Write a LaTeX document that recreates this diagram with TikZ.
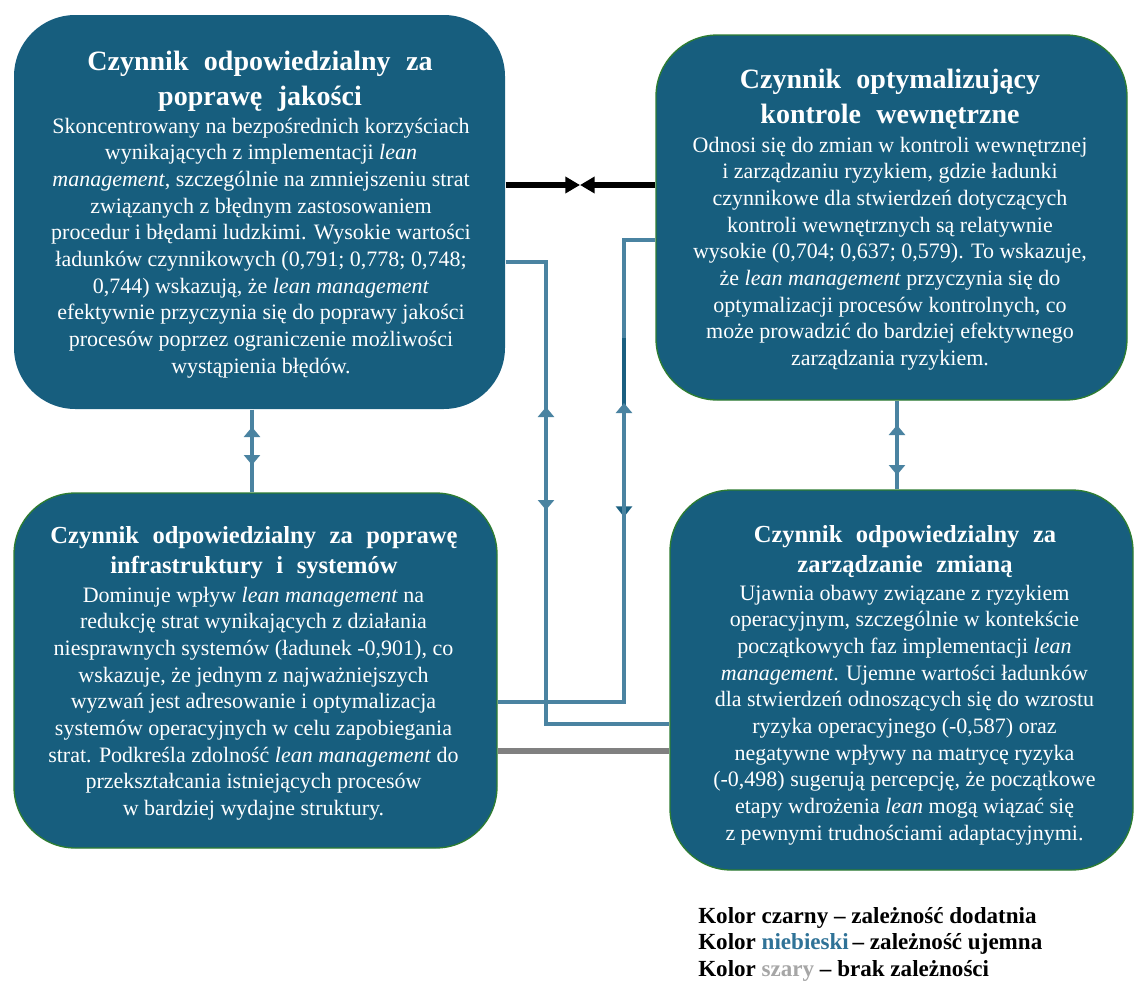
\documentclass[tikz,border=0pt]{standalone}
\usepackage{fontspec}
\setmainfont{Liberation Serif}
\usetikzlibrary{arrows.meta}

\definecolor{boxfill}{HTML}{175E7E}
\definecolor{boxedge}{HTML}{2E7D32}
\definecolor{neglink}{HTML}{4A83A1}
\definecolor{negdeep}{HTML}{1A5F80}
\definecolor{nolink}{HTML}{808080}
\definecolor{legblue}{HTML}{2F7297}
\definecolor{leggray}{HTML}{A6A6A6}

% body paragraph of a factor box: explicit lines, centred
\newcommand\bodytext[1]{\parbox[t]{350pt}{\centering\fontsize{16.5}{20}\selectfont #1}}
% bold heading of a factor box: size, line pitch, lines
\newcommand\headtext[3]{\parbox[t]{370pt}{\centering\fontsize{#1}{#2}\selectfont\bfseries\spaceskip=0.55em\relax #3}}

\begin{document}
\begin{tikzpicture}[x=0.75pt,y=-0.75pt,
  factorbox/.style={fill=boxfill, rounded corners=46pt, inner sep=0pt, draw=boxedge, line width=1pt},
  boxtext/.style={anchor=base, inner sep=0pt, text=white},
  negline/.style={line width=3.5pt, draw=neglink},
  negarrow/.style={negline, -{Triangle[length=7.5pt,width=12pt]}},
  negdeeparrow/.style={line width=3.5pt, draw=negdeep, -{Triangle[length=8pt,width=12pt]}},
  posarrow/.style={line width=4pt, draw=black, -{Triangle[length=11pt,width=12pt]}},
  grayline/.style={line width=4pt, draw=nolink},
  legendtext/.style={anchor=base west, inner sep=0pt, text=black}]

\useasboundingbox (0,0) rectangle (1134,985);

% factor boxes
\node[factorbox, draw=none, minimum width=368.25pt, minimum height=295.5pt] (A) at (259.5,212) {};
\node[factorbox, minimum width=353.25pt, minimum height=273.75pt] (B) at (891.5,217.5) {};
\node[factorbox, minimum width=362.25pt, minimum height=266.25pt] (C) at (255.5,670.5) {};
\node[factorbox, minimum width=347.25pt, minimum height=285pt] (D) at (901.5,680) {};

% headings
\node[boxtext] (Ahead) at (260,70) {\headtext{21}{26.5}{Czynnik odpowiedzialny za\\poprawę jakości}};
\node[boxtext] (Bhead) at (890,88) {\headtext{21}{26.5}{Czynnik optymalizujący\\kontrole wewnętrzne}};
\node[boxtext] (Chead) at (254,543) {\headtext{18.4}{22.5}{Czynnik odpowiedzialny za poprawę\\infrastruktury i systemów}};
\node[boxtext] (Dhead) at (905,542) {\headtext{18.4}{22.5}{Czynnik odpowiedzialny za\\zarządzanie zmianą}};

% descriptions
\node[boxtext] (Abody) at (261,133) {\bodytext{%
Skoncentrowany na bezpośrednich korzyściach\\
wynikających z implementacji \textit{lean}\\
\textit{management}, szczególnie na zmniejszeniu strat\\
związanych z błędnym zastosowaniem\\
procedur i błędami ludzkimi. Wysokie wartości\\
ładunków czynnikowych (0,791; 0,778; 0,748;\\
0,744) wskazują, że \textit{lean management}\\
efektywnie przyczynia się do poprawy jakości\\
procesów poprzez ograniczenie możliwości\\
wystąpienia błędów.}};

\node[boxtext] (Bbody) at (890,152) {\bodytext{%
Odnosi się do zmian w kontroli wewnętrznej\\
i zarządzaniu ryzykiem, gdzie ładunki\\
czynnikowe dla stwierdzeń dotyczących\\
kontroli wewnętrznych są relatywnie\\
wysokie (0,704; 0,637; 0,579). To wskazuje,\\
że \textit{lean management} przyczynia się do\\
optymalizacji procesów kontrolnych, co\\
może prowadzić do bardziej efektywnego\\
zarządzania ryzykiem.}};

\node[boxtext] (Cbody) at (253.5,602) {\bodytext{%
Dominuje wpływ \textit{lean management} na\\
redukcję strat wynikających z działania\\
niesprawnych systemów (ładunek -0,901), co\\
wskazuje, że jednym z najważniejszych\\
wyzwań jest adresowanie i optymalizacja\\
systemów operacyjnych w celu zapobiegania\\
strat. Podkreśla zdolność \textit{lean management} do\\
przekształcania istniejących procesów\\
w bardziej wydajne struktury.}};

\node[boxtext] (Dbody) at (904.5,600) {\bodytext{%
Ujawnia obawy związane z ryzykiem\\
operacyjnym, szczególnie w kontekście\\
początkowych faz implementacji \textit{lean}\\
\textit{management}. Ujemne wartości ładunków\\
dla stwierdzeń odnoszących się do wzrostu\\
ryzyka operacyjnego (-0,587) oraz\\
negatywne wpływy na matrycę ryzyka\\
(-0,498) sugerują percepcję, że początkowe\\
etapy wdrożenia \textit{lean} mogą wiązać się\\
z pewnymi trudnościami adaptacyjnymi.}};

% positive link A <-> B
\coordinate (pmid) at (580,185);
\draw[posarrow] (pmid -| A.east) -- (pmid);
\draw[posarrow] (pmid -| B.west) -- (pmid);

% negative link A <-> D
\coordinate (n1top) at (546,262);
\coordinate (n1bot) at (546,724);
\coordinate (n1down) at (546,510);
\coordinate (n1up) at (546,407);
\draw[negarrow] (n1top -| A.east) -- (n1top) -- (n1down);
\draw[negarrow] (n1bot -| D.west) -- (n1bot) -- (n1up);

% negative link B <-> C
\coordinate (n2top) at (624,240);
\coordinate (n2bot) at (624,702);
\coordinate (n2deep) at (624,338);
\coordinate (n2down) at (624,517);
\coordinate (n2up) at (624,403);
\draw[negline] (n2top -| B.west) -- (n2top) -- (n2deep);
\draw[negdeeparrow] (n2deep) -- (n2down);
\draw[negarrow] (n2bot -| C.east) -- (n2bot) -- (n2up);

% negative link A <-> C
\coordinate (v1down) at (252,465);
\coordinate (v1up) at (252,427);
\draw[negarrow] (v1down |- A.south) -- (v1down);
\draw[negarrow] (v1up |- C.north) -- (v1up);

% negative link B <-> D
\coordinate (v2down) at (897,475);
\coordinate (v2up) at (897,425);
\draw[negarrow] (v2down |- B.south) -- (v2down);
\draw[negarrow] (v2up |- D.north) -- (v2up);

% no link C -- D
\coordinate (gline) at (600,751);
\draw[grayline] (gline -| C.east) -- (gline -| D.west);

% legend
\node[legendtext] (key) at (698,923) {\parbox[t]{330pt}{\raggedright\fontsize{17.3}{19.9}\selectfont\bfseries
Kolor czarny – zależność dodatnia\\
Kolor \textcolor{legblue}{niebieski}\,– zależność ujemna\\
Kolor \textcolor{leggray}{szary} – brak zależności}};

\end{tikzpicture}
\end{document}
